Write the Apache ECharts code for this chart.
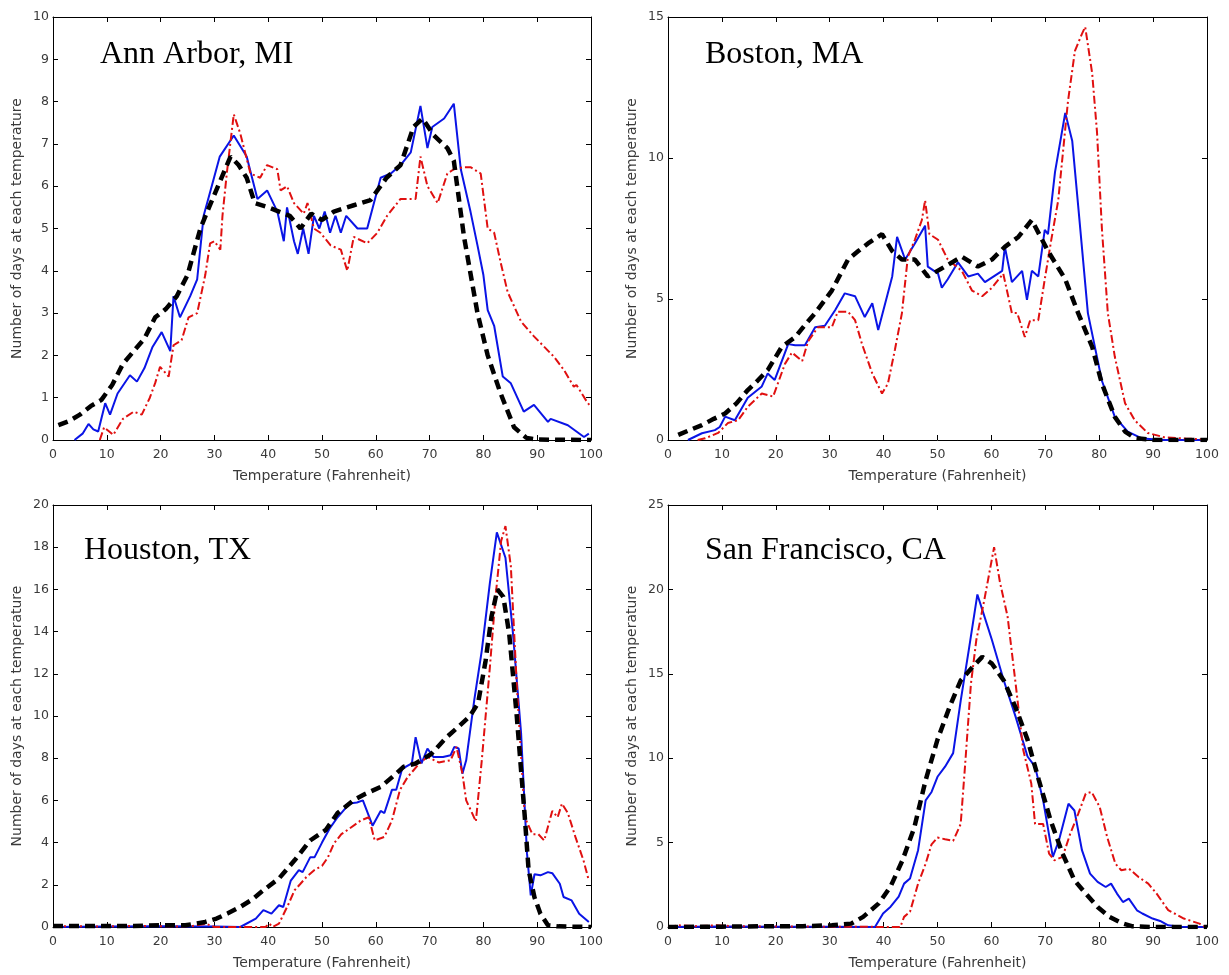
<!DOCTYPE html>
<html>
<head>
<meta charset="utf-8">
<title>Number of days at each temperature</title>
<script src="https://cdn.jsdelivr.net/npm/echarts@6/dist/echarts.min.js"></script>
<style>
    html, body { margin: 0; padding: 0; background: #fff; }
    #chart { width: 1229px; height: 975px; }
</style>
</head>
<body>
<div id="chart"></div>
<script>
// Данные: пары [температура, число дней]

// Ann Arbor, MI
const annArborBlack = [[1,0.35],[3,0.45],[5,0.6],[7,0.8],[9,0.95],[11,1.3],[13,1.8],[15,2.1],[17,2.4],[19,2.9],[21,3.1],[23,3.4],[25,3.9],[27.4,5.0],[29,5.5],[31,6.1],[33,6.7],[34.5,6.5],[36,6.2],[37.5,5.6],[40,5.5],[42,5.4],[44,5.3],[46,5.0],[48,5.35],[50,5.2],[52.2,5.4],[55.9,5.55],[59,5.67],[62,6.2],[64.6,6.5],[67,7.4],[68.7,7.6],[70.8,7.2],[73.3,6.9],[74.5,6.6],[76.4,4.8],[78.9,3.0],[80.8,2.0],[83.2,1.1],[85.7,0.3],[88,0.05],[90,0.01],[100,0]];
const annArborBlue = [[4,0],[5.5,0.15],[6.6,0.38],[7.5,0.25],[8.4,0.2],[9.7,0.87],[10.6,0.6],[12,1.1],[14.3,1.53],[15.6,1.38],[17,1.7],[18.5,2.2],[20.2,2.55],[21.8,2.1],[22.4,3.4],[23.6,2.9],[25.5,3.4],[26.8,3.8],[28,5.3],[29.5,6.0],[31,6.7],[33.6,7.2],[36,6.7],[38,5.7],[39.8,5.9],[41.7,5.4],[42.9,4.7],[43.5,5.5],[44.8,4.7],[45.5,4.4],[46.5,5.0],[47.5,4.4],[48.5,5.3],[49.5,5.0],[50.5,5.4],[51.5,4.9],[52.5,5.3],[53.5,4.9],[54.5,5.3],[56.6,5.0],[58.4,5.0],[60.9,6.2],[62.8,6.3],[64.6,6.5],[66.5,6.8],[68.3,7.9],[69.6,6.9],[70.5,7.4],[72.7,7.6],[74.5,7.95],[75.8,6.4],[77.6,5.4],[78.9,4.6],[80,3.9],[80.8,3.07],[82,2.7],[83.6,1.5],[85.1,1.34],[87.5,0.67],[89.4,0.83],[92,0.43],[92.5,0.5],[95.7,0.35],[98.7,0.07],[99.6,0.15]];
const annArborRed = [[8.7,0],[9.5,0.3],[11.2,0.12],[13,0.5],[15,0.67],[16.5,0.6],[18,1.0],[19,1.35],[19.9,1.73],[21.5,1.5],[22.4,2.24],[23.9,2.36],[25.2,2.9],[26.8,3.0],[28.3,3.9],[29.2,4.65],[30,4.7],[31.1,4.5],[31.5,5.3],[32.3,6.3],[33.6,7.7],[34.8,7.25],[36.7,6.3],[38.5,6.2],[39.8,6.5],[41.7,6.4],[42.3,5.9],[43.5,6.0],[44.8,5.6],[46.6,5.35],[47.3,5.6],[48.5,5.0],[49.7,4.9],[51.6,4.6],[53.5,4.5],[54.7,4.0],[55.9,4.8],[58.4,4.65],[60.3,4.9],[62.1,5.3],[64.6,5.7],[67.4,5.7],[68.3,6.7],[69.6,6.0],[71.5,5.6],[73.3,6.3],[74.5,6.4],[76.4,6.45],[77.6,6.45],[79.5,6.3],[80.8,5.0],[82,4.9],[83.2,4.2],[84.5,3.5],[87,2.8],[89.4,2.45],[93.1,1.97],[95,1.65],[96.8,1.26],[97.3,1.3],[99.4,0.87],[100,0.8]];

// Boston, MA
const bostonBlack = [[1.9,0.18],[4,0.35],[6.3,0.53],[8.5,0.75],[10.6,0.94],[12.7,1.3],[14.8,1.77],[16.6,2.1],[18.5,2.48],[21.1,3.3],[23.6,3.65],[25.5,4.1],[27.3,4.5],[30.4,5.3],[33.4,6.4],[35.3,6.7],[37.1,6.97],[39.7,7.3],[41.6,6.7],[43.4,6.4],[45.8,6.4],[48.2,5.8],[51.4,6.15],[54.5,6.5],[57.5,6.15],[60.1,6.4],[62.5,6.85],[65,7.2],[67.5,7.8],[69.4,7.1],[70.5,6.7],[73.7,5.7],[76.1,4.5],[78.7,3.3],[80.5,2.0],[82.9,0.82],[84.8,0.3],[86.6,0.07],[90,0],[100,0]];
const bostonBlue = [[3.7,0],[6.3,0.24],[8.7,0.35],[9.6,0.46],[10.6,0.83],[12.4,0.7],[14.8,1.5],[17.4,1.9],[18.5,2.36],[19.8,2.13],[22.3,3.4],[23.6,3.36],[25.4,3.36],[27.3,4.0],[29.1,4.05],[31,4.6],[32.8,5.2],[34.7,5.1],[36.5,4.36],[37.9,4.85],[39,3.9],[41.6,5.8],[42.5,7.2],[44,6.4],[45.8,6.97],[47.7,7.6],[48.2,6.15],[50.1,5.9],[50.8,5.4],[51.9,5.7],[53.8,6.3],[55.7,5.8],[57.5,5.9],[58.8,5.6],[62,6.0],[62.5,6.85],[63.8,5.6],[65.7,6.0],[66.6,4.97],[67.5,6.0],[68.7,5.8],[69.9,7.45],[70.5,7.3],[71.8,9.5],[73.7,11.6],[75,10.6],[76.1,8.3],[77.9,4.5],[80.5,2.1],[82.9,0.82],[85.3,0.3],[88,0.05],[92,0],[100,0]];
const bostonRed = [[5.5,0],[6.9,0.06],[9.3,0.25],[11.1,0.6],[13,0.7],[14.8,1.18],[17.4,1.65],[19.5,1.54],[21.7,2.7],[23,3.1],[24.9,2.8],[26,3.5],[27.8,4.0],[30.4,4.0],[31.5,4.55],[33.4,4.55],[34.7,4.25],[36,3.4],[37.9,2.36],[39.7,1.65],[40.8,2.0],[42.1,3.2],[43.4,4.5],[44.5,6.5],[45.8,7.1],[47.1,7.8],[47.7,8.5],[48.5,7.3],[50.1,7.1],[51.9,6.4],[54.5,6.0],[56.4,5.3],[58.3,5.1],[60.1,5.4],[62.2,5.9],[63.8,4.5],[64.8,4.5],[66.2,3.65],[67.2,4.25],[68.7,4.25],[69.9,5.7],[71.2,7.2],[72.4,8.5],[74.2,12],[75.5,13.8],[76.8,14.4],[77.4,14.65],[78.7,13],[79.6,10.9],[80.5,7.5],[81.6,4.5],[82.9,2.95],[84.8,1.3],[86.6,0.7],[89,0.25],[92,0.1],[96,0.05],[100,0.02]];

// Houston, TX
const houstonBlack = [[0,0.05],[5,0.05],[10,0.05],[15,0.05],[20,0.08],[24.6,0.08],[28.3,0.24],[30.4,0.4],[32.5,0.65],[34.8,0.95],[37,1.3],[39.1,1.74],[42,2.3],[44.9,3.16],[47.8,4.1],[50.7,4.6],[52.9,5.4],[55.8,6.0],[58,6.3],[60.9,6.64],[63.8,7.27],[65.2,7.6],[67.4,7.75],[70.3,8.2],[73.2,9.0],[75.4,9.5],[77.5,10.0],[79,10.6],[80.4,12.6],[81.5,14.7],[82.6,16.0],[83.7,15.65],[84.8,13.9],[86.2,10],[87.7,5.2],[88.4,2.7],[89.5,1.4],[90.6,0.63],[92,0.08],[94,0.03],[100,0]];
const houstonBlue = [[0,0],[10,0.02],[20,0.03],[30,0.02],[34.8,0],[37.7,0.4],[39.1,0.8],[40.6,0.63],[42,1.03],[42.8,0.95],[44.2,2.2],[45.7,2.7],[46.4,2.6],[47.8,3.3],[48.6,3.3],[50,4.0],[51.4,4.66],[52.9,5.2],[55.1,5.85],[56.5,5.9],[57.6,6.0],[59.4,4.8],[60.9,5.5],[61.6,5.4],[63,6.5],[63.8,6.5],[64.9,7.5],[66.7,7.75],[67.4,9.0],[68.5,7.75],[69.6,8.46],[70.7,8.06],[72.5,8.06],[73.9,8.14],[74.6,8.54],[75.4,8.46],[76.1,7.27],[76.8,7.9],[78.3,10.75],[79.7,13.1],[81.2,16.3],[82.5,18.7],[84.1,17.5],[85.5,13.9],[87,9.2],[88.1,3.5],[88.8,1.5],[89.5,2.5],[90.6,2.45],[92,2.6],[92.8,2.55],[94.2,2.05],[94.9,1.42],[96.4,1.26],[97.8,0.63],[99.6,0.24]];
const houstonRed = [[0,0],[3,0.05],[8,0.02],[13,0.05],[18,0.05],[23,0.02],[26,0.05],[28.5,0.15],[30,0],[39.5,0],[40.2,0.16],[40.8,0],[42,0.16],[43.8,1.1],[44.9,1.74],[46,2.05],[47.1,2.37],[48.6,2.7],[50,2.9],[51.1,3.3],[52.2,3.95],[53.6,4.4],[55.1,4.66],[57.2,5.05],[58.7,5.2],[59.8,4.1],[61.6,4.27],[63,5.05],[64.5,6.5],[65.9,7.1],[68.1,7.75],[69.6,8.06],[71.7,7.8],[73.9,7.9],[75,8.54],[76.1,7.27],[76.8,6.0],[77.9,5.4],[78.6,5.0],[79.7,7.9],[81.2,12.3],[82.2,15.5],[83.3,18.3],[84.1,19.0],[85.1,17.1],[86.2,11.5],[87.7,5.2],[89.1,4.4],[90.2,4.4],[91.3,4.1],[92.8,5.5],[93.8,5.2],[94.6,5.85],[95.7,5.4],[97.1,4.27],[98.6,3.16],[99.6,2.2]];

// San Francisco, CA
const sanFranciscoBlack = [[0,0],[10,0.02],[20,0.05],[25,0.05],[30.4,0.1],[34,0.2],[36.2,0.6],[39.1,1.4],[41.3,2.4],[43.5,3.95],[45.7,5.9],[47.8,8.7],[50,11.1],[52.2,13.0],[54.3,14.6],[56.5,15.4],[58.3,16.0],[60.1,15.6],[62.3,14.6],[64.5,13.0],[66.7,11.1],[68.8,8.7],[71,6.3],[73.2,4.35],[75.4,2.77],[77.5,1.98],[79.7,1.19],[81.9,0.6],[84.1,0.24],[86.2,0.04],[90,0],[100,0]];
const sanFranciscoBlue = [[0,0],[10,0.03],[20,0.02],[30,0.02],[38.4,0],[39.9,0.8],[41.3,1.2],[42.8,1.8],[43.8,2.57],[44.9,2.87],[46.4,4.55],[47.8,7.5],[48.9,8.0],[50,8.9],[51.4,9.5],[52.9,10.3],[54.3,13.4],[55.8,16.4],[57.4,19.7],[58.3,18.8],[60.1,17.0],[62.3,14.6],[64.5,12.45],[66.7,10.1],[68.1,9.5],[69.6,7.5],[71.4,4.15],[72.5,5.1],[74.3,7.3],[75.4,6.9],[76.8,4.55],[78.3,3.16],[79.7,2.67],[81.2,2.37],[82.2,2.57],[83.3,1.98],[84.4,1.48],[85.5,1.68],[87,0.99],[88,0.8],[89.9,0.5],[91.3,0.36],[92.8,0.1],[95,0.02],[100,0]];
const sanFranciscoRed = [[0,0],[2,0.1],[5,0.05],[9,0.1],[12,0.05],[20,0.03],[30,0.02],[43.1,0],[43.8,0.6],[44.9,0.9],[46.4,2.57],[47.8,3.75],[48.9,4.9],[50,5.3],[51.4,5.2],[52.9,5.1],[54.3,6.1],[55.1,9.5],[56.2,14.4],[57.2,17.0],[58.7,19.4],[60.5,22.5],[61.6,20.4],[63,18.4],[64.5,14.4],[65.9,10.5],[67.4,8.5],[68.1,6.1],[69.6,6.1],[70.7,4.35],[71.7,3.95],[73.2,4.15],[74.6,5.5],[76.1,6.7],[77.5,7.9],[78.6,8.0],[80.1,7.1],[81.5,5.3],[83,3.75],[84.1,3.36],[85.5,3.46],[87.3,2.96],[89.1,2.57],[90.6,2.0],[92.8,1.0],[95.7,0.5],[98.6,0.2],[99.6,0]];

// Подписи и шкалы панелей
const cityNames = ['Ann Arbor, MI', 'Boston, MA', 'Houston, TX', 'San Francisco, CA'];
const yMaxValues = [10, 15, 20, 25];
const yIntervals = [1, 5, 2, 5];
const xMin = 0;
const xMax = 100;
const xInterval = 10;
const xAxisTitle = 'Temperature (Fahrenheit)';
const yAxisTitle = 'Number of days at each temperature';

const blackSeries = [annArborBlack, bostonBlack, houstonBlack, sanFranciscoBlack];
const blueSeries = [annArborBlue, bostonBlue, houstonBlue, sanFranciscoBlue];
const redSeries = [annArborRed, bostonRed, houstonRed, sanFranciscoRed];

// Раскладка
const GRID_BOXES = [
    { left: 53, top: 17, width: 538, height: 423 },
    { left: 668, top: 17, width: 539, height: 423 },
    { left: 53, top: 505, width: 538, height: 422 },
    { left: 668, top: 505, width: 539, height: 422 }
];
const CITY_LABEL_POS = [[100, 55], [705, 55], [84, 551], [705, 551]];

const AXIS_FONT = 'DejaVu Sans';
const AXIS_COLOR = '#000';
const LABEL_COLOR = '#3a3a3a';

// Общие настройки оси в стиле MATLAB (рамка, засечки внутрь)
function frameAxis(extra) {
    return Object.assign({
        type: 'value',
        splitLine: { show: false },
        axisLine: { show: true, onZero: false, lineStyle: { color: AXIS_COLOR, width: 1 } },
        axisTick: { show: true, inside: true, length: 5, lineStyle: { color: AXIS_COLOR } }
    }, extra);
}

const xAxes = [];
const yAxes = [];
const series = [];

GRID_BOXES.forEach((box, i) => {
    xAxes.push(frameAxis({
        gridIndex: i, position: 'bottom', min: xMin, max: xMax, interval: xInterval,
        name: xAxisTitle, nameLocation: 'middle', nameGap: 29,
        nameTextStyle: { fontFamily: AXIS_FONT, fontSize: 14, color: LABEL_COLOR },
        axisLabel: { margin: 8, fontFamily: AXIS_FONT, fontSize: 12.5, color: LABEL_COLOR }
    }));
    xAxes.push(frameAxis({
        gridIndex: i, position: 'top', min: xMin, max: xMax, interval: xInterval,
        axisLabel: { show: false }
    }));
    yAxes.push(frameAxis({
        gridIndex: i, position: 'left', min: 0, max: yMaxValues[i], interval: yIntervals[i],
        name: yAxisTitle, nameLocation: 'middle', nameGap: 29,
        nameTextStyle: { fontFamily: AXIS_FONT, fontSize: 14, color: LABEL_COLOR },
        axisLabel: { margin: 4, fontFamily: AXIS_FONT, fontSize: 12.5, color: LABEL_COLOR }
    }));
    yAxes.push(frameAxis({
        gridIndex: i, position: 'right', min: 0, max: yMaxValues[i], interval: yIntervals[i],
        axisLabel: { show: false }
    }));

    const axisRef = { xAxisIndex: i * 2, yAxisIndex: i * 2 };
    series.push(Object.assign({
        type: 'line', data: blueSeries[i], showSymbol: false, symbol: 'none',
        lineStyle: { color: '#0a14e6', width: 2 }
    }, axisRef));
    series.push(Object.assign({
        type: 'line', data: redSeries[i], showSymbol: false, symbol: 'none',
        lineStyle: { color: '#e01010', width: 2, type: [8, 3, 2, 3] }
    }, axisRef));
    series.push(Object.assign({
        type: 'line', data: blackSeries[i], showSymbol: false, symbol: 'none',
        lineStyle: { color: '#000', width: 4.5, type: [10, 6] }
    }, axisRef));
});

const chart = echarts.init(document.getElementById('chart'), null, { renderer: 'canvas' });
chart.setOption({
    backgroundColor: '#fff',
    animation: false,
    grid: GRID_BOXES,
    xAxis: xAxes,
    yAxis: yAxes,
    series: series,
    graphic: cityNames.map((name, i) => ({
        type: 'text',
        x: CITY_LABEL_POS[i][0],
        y: CITY_LABEL_POS[i][1],
        style: {
            text: name,
            fill: '#000',
            font: '32px "Liberation Serif", "Times New Roman", serif',
            verticalAlign: 'middle'
        }
    }))
});
</script>
</body>
</html>
